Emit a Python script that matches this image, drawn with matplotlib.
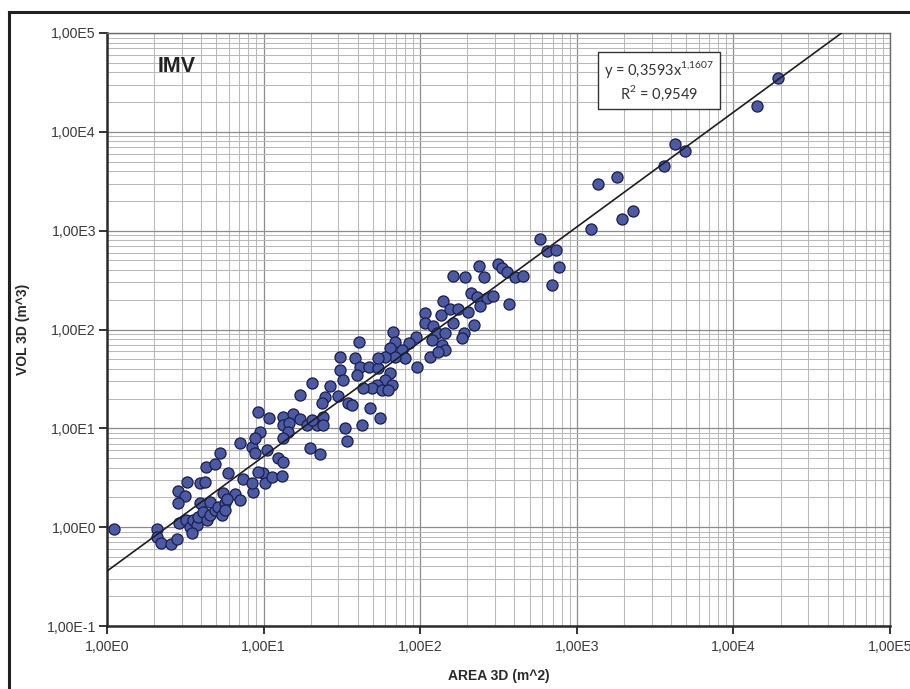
import numpy as np
import matplotlib
matplotlib.use("Agg")
import matplotlib.pyplot as plt
from matplotlib.ticker import LogLocator, FuncFormatter, NullFormatter
from matplotlib.lines import Line2D

plt.rcParams['font.family'] = ['Liberation Sans', 'DejaVu Sans']
plt.rcParams['mathtext.fontset'] = 'custom'
plt.rcParams['mathtext.rm'] = 'Lato'

# Surveyed features: 3D area (m^2) and 3D volume (m^3)
area_3d = [
    1.11, 2.08, 2.1, 2.2, 2.55, 2.8, 2.85, 3.25, 3.15, 2.85,
    2.9, 3.2, 3.4, 3.55, 3.75, 3.5, 3.8, 3.9, 3.95, 4.2,
    4.3, 4.9, 5.25, 5.9, 4.1, 4.35, 4.55, 4.9, 4.55, 5.1,
    5.65, 5.4, 5.7, 5.5, 6.55, 7.05, 5.85, 7.4, 8.55, 8.4,
    9.9, 10.2, 7.05, 8.4, 8.8, 10.5, 11.3, 13.1, 9.2, 12.4,
    13.3, 9.5, 8.8, 9.2, 10.8, 13.3, 15.4, 17.1, 13.3, 14.5,
    18.9, 14.3, 13.3, 19.8, 17.1, 22.9, 34.0, 20.4, 26.5, 24.7,
    23.6, 29.9, 34.6, 36.7, 47.8, 55.4, 42.5, 33.1, 23.9, 21.9,
    20.4, 23.9, 40.7, 38.4, 30.8, 41.3, 47.1, 53.8, 64.1, 59.6,
    30.8, 32.1, 39.5, 66.1, 53.0, 49.2, 43.1, 57.0, 62.3, 67.0,
    94.0, 84.8, 69.0, 64.1, 76.5, 80.0, 69.0, 59.6, 53.8, 95.4,
    116, 107, 107, 162, 193, 211, 231, 140, 136, 155,
    174, 202, 162, 190, 221, 185, 121, 128, 144, 138,
    144, 130, 119, 267, 292, 241, 369, 237, 314, 333,
    358, 403, 453, 255, 582, 645, 736, 770, 695, 1230,
    19300, 14200, 4240, 4910, 3600, 1370, 1810, 2290, 1950,
]
vol_3d = [
    0.95, 0.95, 0.79, 0.69, 0.67, 0.76, 2.3, 2.85, 2.05, 1.75,
    1.1, 1.18, 1.0, 1.18, 1.05, 0.87, 1.26, 2.8, 1.75, 2.85,
    4.05, 4.35, 5.6, 3.5, 1.42, 1.18, 1.32, 1.48, 1.8, 1.6,
    1.75, 1.32, 1.5, 2.2, 2.15, 1.88, 1.95, 3.05, 2.25, 2.8,
    3.5, 2.8, 7.1, 6.45, 5.6, 6.0, 3.2, 3.3, 3.6, 5.0,
    4.55, 9.15, 7.95, 14.6, 12.7, 13.0, 13.9, 12.4, 10.8, 11.3,
    10.8, 9.15, 7.95, 6.3, 21.7, 5.5, 7.4, 28.7, 26.7, 20.7,
    18.0, 21.2, 18.0, 17.2, 16.0, 12.7, 10.8, 10.0, 13.0, 10.8,
    12.1, 10.8, 74.5, 51.4, 52.6, 41.6, 41.6, 40.7, 36.2, 30.8,
    38.8, 30.8, 34.5, 27.4, 27.4, 25.5, 25.5, 24.4, 24.4, 94.2,
    83.8, 72.8, 74.5, 64.8, 61.9, 51.4, 52.6, 52.6, 51.4, 41.6,
    52.6, 147, 116, 347, 339, 233, 213, 194, 140, 161,
    161, 150, 116, 92.0, 111, 81.8, 108, 92.0, 92.0, 69.5,
    61.9, 59.1, 78.1, 208, 218, 173, 181, 438, 459, 418,
    381, 339, 347, 339, 822, 622, 637, 428, 281, 1040,
    35000, 18300, 7530, 6390, 4510, 2960, 3490, 1580, 1310,
]

# Power-law fit  y = a * x^b
fit_a = 0.3593
fit_b = 1.1607
fit_r2 = 0.9549

x_min, x_max = 1.0, 1.0e5
y_min, y_max = 1.0e-1, 1.0e5

fig = plt.figure(figsize=(9.10, 6.89), dpi=100)
ax = fig.add_axes([107 / 910, 1 - 626 / 689, 783 / 910, 593 / 689])

ax.set_xscale('log')
ax.set_yscale('log')
ax.set_xlim(x_min, x_max)
ax.set_ylim(y_min, y_max)

# Grid: decades and sub-decades
for axis in (ax.xaxis, ax.yaxis):
    axis.set_major_locator(LogLocator(base=10, numticks=20))
    axis.set_minor_locator(LogLocator(base=10, subs=np.arange(2, 10), numticks=20))
    axis.set_minor_formatter(NullFormatter())
ax.grid(True, which='major', color='#8c8c8c', linewidth=0.9)
ax.grid(True, which='minor', color='#b9b9b9', linewidth=0.75)
ax.set_axisbelow(True)

fmt = FuncFormatter(lambda v, p: "1,00E%d" % int(round(np.log10(v))))
ax.xaxis.set_major_formatter(fmt)
ax.yaxis.set_major_formatter(fmt)

ax.tick_params(which='major', direction='out', length=6, width=1.4,
               color='#333333', labelsize=10.2, labelcolor='#3a3a3a')
ax.tick_params(axis='x', which='major', pad=4)
ax.tick_params(axis='y', which='major', pad=2)
ax.tick_params(which='minor', length=0)

for side in ('left', 'bottom'):
    ax.spines[side].set_linewidth(1.8)
    ax.spines[side].set_color('#2a2a2a')
for side in ('top', 'right'):
    ax.spines[side].set_linewidth(1.0)
    ax.spines[side].set_color('#6a6a6a')

# Observations
ax.scatter(area_3d, vol_3d, s=64, facecolor='#4a5aa3', edgecolor='#1b1d4e',
           linewidth=0.9, zorder=3, clip_on=False)

# Fitted trend line
xf = np.logspace(np.log10(x_min), np.log10(x_max), 200)
ax.plot(xf, fit_a * xf ** fit_b, color='#1e1e1e', linewidth=1.2, zorder=4)

ax.set_xlabel('AREA 3D (m^2)', fontsize=10, fontweight='bold', color='#2a2a2a')
ax.set_ylabel('VOL 3D (m^3)', fontsize=10, fontweight='bold', color='#2a2a2a')
ax.xaxis.set_label_coords(0.5, -43 / 593)
ax.yaxis.set_label_coords(-77 / 783, 0.5)

ax.text(0.065, 0.962, 'IMV', transform=ax.transAxes, fontsize=15.5, fontweight='bold',
        color='#222222', ha='left', va='top', zorder=5)

eq = ("y = 0,3593x$^{\\mathregular{1{,}1607}}$\nR$^{\\mathregular{2}}$ = %s"
      % ("%.4f" % fit_r2).replace('.', ','))
ax.text(0.705, 0.919, eq, transform=ax.transAxes, fontsize=10.5, family='Lato',
        color='#333333', ha='center', va='center', multialignment='center',
        linespacing=1.2, zorder=6,
        bbox=dict(boxstyle='square,pad=0.42', facecolor='white',
                  edgecolor='#333333', linewidth=1.0))

# Outer frame of the panel
fig.add_artist(Line2D([9 / 910, 9 / 910], [0, 1 - 12 / 689], color='#202020',
                      linewidth=2.2, transform=fig.transFigure))
fig.add_artist(Line2D([9 / 910, 1], [1 - 12 / 689, 1 - 12 / 689], color='#202020',
                      linewidth=2.2, transform=fig.transFigure))

fig.savefig('out.png', dpi=100)
